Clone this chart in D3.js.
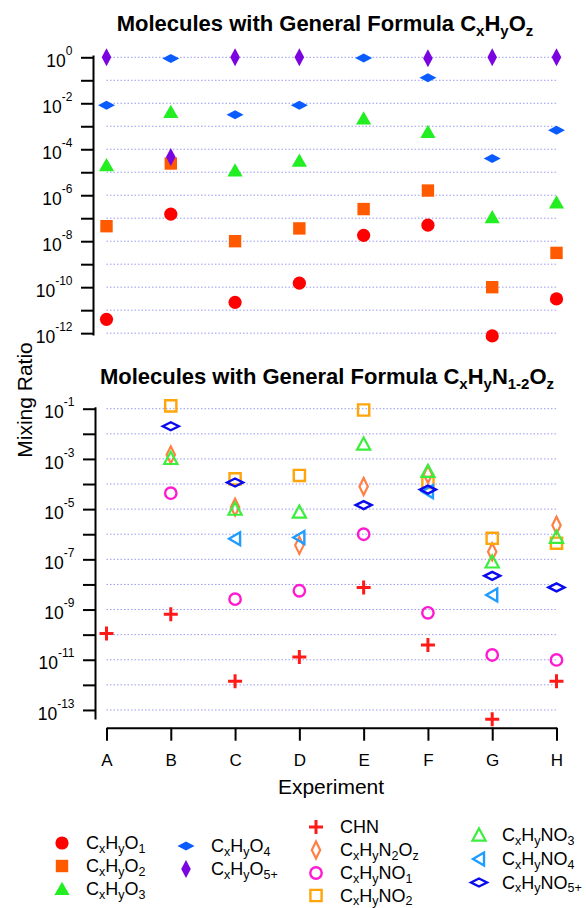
<!DOCTYPE html>
<html>
<head>
<meta charset="utf-8">
<script src="https://cdn.jsdelivr.net/npm/d3@7"></script>
<style>
  html, body { margin: 0; padding: 0; background: #fff; }
  svg { display: block; font-family: "Liberation Sans", Arial, sans-serif; }
</style>
</head>
<body>
<svg id="chart" width="586" height="908"></svg>
<script>
// ---------------- DATA ----------------
const experiments = ["A", "B", "C", "D", "E", "F", "G", "H"];

// Top panel: CxHyOz
const O1 = [4e-12, 1.5e-7, 2.2e-11, 1.5e-10, 1.8e-8, 5e-8, 7.6e-13, 3.1e-11];
const O2 = [4.5e-8, 2.4e-5, 1e-8, 3.6e-8, 2.5e-7, 1.6e-6, 1e-10, 3.1e-9];
const O3 = [2e-5, 4.2e-3, 1.2e-5, 3.2e-5, 2.2e-3, 5.7e-4, 1.1e-7, 4.8e-7];
const O4 = [8.2e-3, 0.88, 3.2e-3, 8.2e-3, 0.93, 0.13, 4e-5, 6.7e-4];
const O5plus = [1, 4.6e-5, 1, 1, null, 0.9, 1, 1];

// Bottom panel: CxHyN1-2Oz
const CHN = [1.1e-10, 6.5e-10, 1.4e-12, 1.3e-11, 7.6e-9, 3.9e-11, 4.3e-14, 1.4e-12];
const N2Oz = [null, 1.45e-3, 1.2e-5, 3.6e-7, 7.9e-5, 2.4e-4, 2e-7, 2.3e-6];
const NO1 = [null, 4.3e-5, 2.6e-9, 5.6e-9, 1e-6, 7.4e-10, 1.55e-11, 9.8e-12];
const NO2 = [null, 0.13, 1.6e-4, 2.2e-4, 0.089, 1.15e-4, 6.9e-7, 4.4e-7];
const NO3 = [null, 1.05e-3, 1e-5, 7.6e-6, 3.9e-3, 3.2e-4, 7.9e-8, 7.6e-7];
const NO4 = [null, null, 6.6e-7, 7.4e-7, null, 5e-5, 3.8e-9, null];
const NO5plus = [null, 0.02, 1.15e-4, null, 1.45e-5, 6e-5, 2.2e-8, 7.6e-9];

// tick exponents
const topTickExps = [0, -1, -2, -3, -4, -5, -6, -7, -8, -9, -10, -11, -12];
const topLabelExps = [0, -2, -4, -6, -8, -10, -12];
const botTickExps = [-1, -2, -3, -4, -5, -6, -7, -8, -9, -10, -11, -12, -13];
const botLabelExps = [-1, -3, -5, -7, -9, -11, -13];

// labels
const topTitle = "Molecules with General Formula C{x}H{y}O{z}";
const botTitle = "Molecules with General Formula C{x}H{y}N{1-2}O{z}";
const yTitle = "Mixing Ratio";
const xTitle = "Experiment";

// series definitions (styles)
const topSeries = [
  { name: "C{x}H{y}O{1}", values: O1, shape: "circle", color: "#ff0000" },
  { name: "C{x}H{y}O{2}", values: O2, shape: "square", color: "#ff5a00" },
  { name: "C{x}H{y}O{3}", values: O3, shape: "triangle", color: "#22ee22" },
  { name: "C{x}H{y}O{4}", values: O4, shape: "wdiamond", color: "#0a5cff" },
  { name: "C{x}H{y}O{5+}", values: O5plus, shape: "tdiamond", color: "#7a05e0" }
];
const botSeries = [
  { name: "CHN", values: CHN, shape: "cross", color: "#ff1a1a" },
  { name: "C{x}H{y}N{2}O{z}", values: N2Oz, shape: "tdiamondO", color: "#ff7f45" },
  { name: "C{x}H{y}NO{1}", values: NO1, shape: "circleO", color: "#ff1ad0" },
  { name: "C{x}H{y}NO{2}", values: NO2, shape: "squareO", color: "#ffa50a" },
  { name: "C{x}H{y}NO{3}", values: NO3, shape: "triangleO", color: "#3cee3c" },
  { name: "C{x}H{y}NO{4}", values: NO4, shape: "ltriangleO", color: "#1e9cff" },
  { name: "C{x}H{y}NO{5+}", values: NO5plus, shape: "wdiamondO", color: "#0a0aee" }
];

// ---------------- LAYOUT ----------------
const svg = d3.select("#chart");
const font = "'Liberation Sans', Arial, sans-serif";

const x = d3.scalePoint().domain(experiments).range([106.5, 556.5]);
const yTop = d3.scaleLog().domain([Math.pow(10, -12.08), Math.pow(10, 0.1)]).range([335, 55]);
const yBot = d3.scaleLog().domain([Math.pow(10, -13.36), Math.pow(10, -0.92)]).range([719, 406.7]);

// -------- helpers --------
function richText(sel, str, baseSize, subSize, subShift) {
  const parts = str.split(/(\{[^}]*\})/).filter(s => s.length);
  let inSub = false;
  parts.forEach(p => {
    if (p.startsWith("{")) {
      sel.append("tspan").attr("font-size", subSize).attr("dy", subShift).text(p.slice(1, -1));
      inSub = true;
    } else {
      sel.append("tspan").attr("font-size", baseSize).attr("dy", inSub ? -subShift : 0).text(p);
      inSub = false;
    }
  });
}

function shapePath(shape) {
  switch (shape) {
    case "circle": return { d: d3.arc()({innerRadius:0, outerRadius:6.6, startAngle:0, endAngle:2*Math.PI}), fill: true };
    case "square": return { d: "M-6.2,-6.2H6.2V6.2H-6.2Z", fill: true };
    case "triangle": return { d: "M0,-7.2L7.6,6L-7.6,6Z", fill: true };
    case "wdiamond": return { d: "M-8.5,0L0,-4.5L8.5,0L0,4.5Z", fill: true };
    case "tdiamond": return { d: "M0,-9L4.8,0L0,9L-4.8,0Z", fill: true };
    case "cross": return { d: "M-7,0H7M0,-7V7", fill: false, sw: 3 };
    case "tdiamondO": return { d: "M0,-8.5L4.2,0L0,8.5L-4.2,0Z", fill: false, sw: 2.2 };
    case "circleO": return { d: d3.arc()({innerRadius:0, outerRadius:5.7, startAngle:0, endAngle:2*Math.PI}), fill: false, sw: 2.4 };
    case "squareO": return { d: "M-5.6,-5.6H5.6V5.6H-5.6Z", fill: false, sw: 2.4 };
    case "triangleO": return { d: "M0,-6.6L6.6,5.6L-6.6,5.6Z", fill: false, sw: 2.2 };
    case "ltriangleO": return { d: "M-6,0L5,-6.5L5,6.5Z", fill: false, sw: 2.4 };
    case "wdiamondO": return { d: "M-8,0L0,-4L8,0L0,4Z", fill: false, sw: 2.4 };
  }
}

function drawMarker(g, shape, color) {
  const s = shapePath(shape);
  const p = g.append("path").attr("d", s.d);
  if (s.fill) p.attr("fill", color).attr("stroke", "none");
  else p.attr("fill", "none").attr("stroke", color).attr("stroke-width", s.sw).attr("stroke-linejoin", "miter");
}

function drawYAxis(y, axisX, tickExps, labelExps) {
  const g = svg.append("g").attr("transform", `translate(${axisX},0)`);
  const axis = d3.axisLeft(y)
    .tickValues(tickExps.map(e => Math.pow(10, e)))
    .tickSize(12).tickSizeOuter(0).tickFormat("");
  g.call(axis);
  g.select(".domain").attr("stroke", "#000").attr("stroke-width", 2);
  g.selectAll(".tick line").attr("stroke", "#000").attr("stroke-width", 2);
  g.selectAll(".tick text").remove();
  labelExps.forEach(e => {
    const yy = y(Math.pow(10, e));
    const t = g.append("text")
      .attr("x", -20.5).attr("y", yy + 9.6)
      .attr("text-anchor", "end")
      .attr("font-family", font).attr("fill", "#000");
    t.append("tspan").attr("font-size", 17.5).text("10");
    t.append("tspan").attr("font-size", 12).attr("dy", -12).text(e === 0 ? "0" : "-" + Math.abs(e));
  });
}

function drawGrid(y, exps) {
  svg.append("g").selectAll("line").data(exps).join("line")
    .attr("x1", 106.5).attr("x2", 556)
    .attr("y1", e => y(Math.pow(10, e))).attr("y2", e => y(Math.pow(10, e)))
    .attr("stroke", "#9a9af5").attr("stroke-width", 1).attr("stroke-dasharray", "1.5,2");
}

function drawSeries(y, series) {
  series.forEach(s => {
    const g = svg.append("g");
    s.values.forEach((v, i) => {
      if (v == null) return;
      const m = g.append("g").attr("transform", `translate(${x(experiments[i])},${y(v)})`);
      drawMarker(m, s.shape, s.color);
    });
  });
}

// ---------------- TOP PANEL ----------------
const t1 = svg.append("text").attr("x", 325).attr("y", 31).attr("text-anchor", "middle")
  .attr("font-family", font).attr("font-weight", "bold").attr("fill", "#000");
richText(t1, topTitle, 22, 15, 5);

drawGrid(yTop, topTickExps);
drawYAxis(yTop, 93, topTickExps, topLabelExps);
drawSeries(yTop, topSeries);

// ---------------- BOTTOM PANEL ----------------
const t2 = svg.append("text").attr("x", 327).attr("y", 384).attr("text-anchor", "middle")
  .attr("font-family", font).attr("font-weight", "bold").attr("fill", "#000");
richText(t2, botTitle, 22, 15, 5);

drawGrid(yBot, botTickExps);
drawYAxis(yBot, 95, botTickExps, botLabelExps);
drawSeries(yBot, botSeries);

// x axis
const gx = svg.append("g").attr("transform", "translate(0,727.7)");
gx.call(d3.axisBottom(x).tickSize(13).tickSizeOuter(0).tickPadding(13.5));
gx.select(".domain").attr("stroke", "#000").attr("stroke-width", 2);
gx.selectAll(".tick line").attr("stroke", "#000").attr("stroke-width", 2);
gx.selectAll(".tick text").attr("font-size", 17).attr("font-family", font).attr("fill", "#000");

svg.append("text").attr("x", 331).attr("y", 794).attr("text-anchor", "middle")
  .attr("font-family", font).attr("font-size", 21).attr("fill", "#000").text(xTitle);

svg.append("text").attr("transform", "translate(31.5,400) rotate(-90)").attr("text-anchor", "middle")
  .attr("font-family", font).attr("font-size", 21).attr("fill", "#000").text(yTitle);

// ---------------- LEGEND ----------------
const legendCols = [
  { mx: 62, tx: 86, ys: [843, 866, 889], items: topSeries.slice(0, 3) },
  { mx: 186, tx: 211, ys: [846, 869], items: topSeries.slice(3, 5) },
  { mx: 316, tx: 340, ys: [827, 850, 873, 895.5], items: botSeries.slice(0, 4) },
  { mx: 479, tx: 502, ys: [835, 859, 882.5], items: botSeries.slice(4, 7) }
];
legendCols.forEach(col => {
  col.items.forEach((s, i) => {
    const yy = col.ys[i];
    const m = svg.append("g").attr("transform", `translate(${col.mx},${yy})`);
    drawMarker(m, s.shape, s.color);
    const t = svg.append("text").attr("x", col.tx).attr("y", yy + 6)
      .attr("font-family", font).attr("fill", "#000");
    richText(t, s.name, 18, 12.5, 3.5);
  });
});
</script>
</body>
</html>
